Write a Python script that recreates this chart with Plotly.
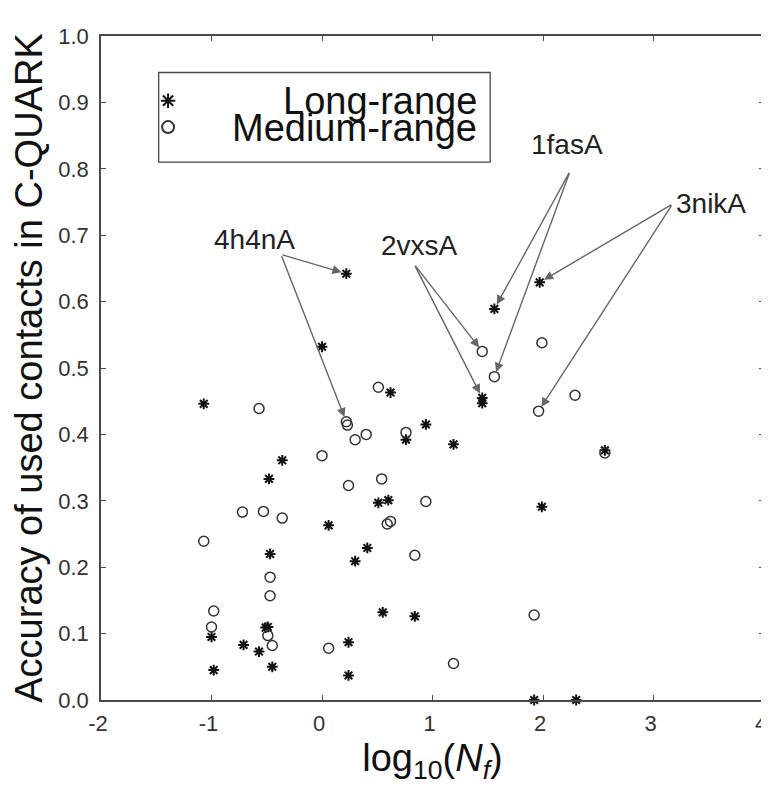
import plotly.graph_objects as go

# ---- data ----
long_x = [0.22, 0.00, 0.62, -1.07, -0.36, -0.48, 0.51, 0.60, 0.06, 0.41, 0.30, -0.47,
          -1.00, -0.51, -0.49, -0.71, -0.57, -0.45, -0.98, 0.24, 0.24, 0.55, 0.84,
          0.94, 0.76, 1.19, 1.45, 1.45, 1.56, 1.97, 1.99, 2.56, 1.92, 2.30]
long_y = [0.642, 0.532, 0.463, 0.446, 0.361, 0.333, 0.297, 0.301, 0.263, 0.229, 0.209, 0.220,
          0.095, 0.109, 0.110, 0.083, 0.073, 0.050, 0.045, 0.087, 0.037, 0.132, 0.126,
          0.415, 0.392, 0.385, 0.455, 0.447, 0.589, 0.629, 0.291, 0.376, 0.000, 0.000]

med_x = [0.51, -0.57, 0.22, 0.23, 0.30, 0.40, 0.00, 0.24, 0.54, -0.72, -0.53, -0.36,
         0.59, 0.62, -1.07, -0.47, -0.47, -0.98, -1.00, -0.49, -0.45, 0.06, 0.84,
         0.94, 0.76, 1.45, 1.56, 1.99, 1.96, 2.29, 2.56, 1.92, 1.19]
med_y = [0.471, 0.439, 0.419, 0.414, 0.392, 0.400, 0.368, 0.323, 0.333, 0.283, 0.284, 0.274,
         0.265, 0.269, 0.239, 0.185, 0.157, 0.134, 0.110, 0.097, 0.082, 0.078, 0.218,
         0.299, 0.403, 0.525, 0.487, 0.538, 0.435, 0.459, 0.372, 0.128, 0.055]

series_names = ["Long-range", "Medium-range"]
x_ticks = [-2, -1, 0, 1, 2, 3, 4]
y_ticks = [0.0, 0.1, 0.2, 0.3, 0.4, 0.5, 0.6, 0.7, 0.8, 0.9, 1.0]

# labelled proteins: label, label position, index into long series, index into medium series
labels = ["4h4nA", "2vxsA", "1fasA", "3nikA"]
label_x = [-0.612, 0.880, 2.219, 3.523]
label_y = [0.693, 0.684, 0.837, 0.747]
arrow_tail_x = [-0.371, 0.835, 2.244, 3.173]
arrow_tail_y = [0.671, 0.656, 0.796, 0.747]
long_idx = [0, 26, 28, 29]
med_idx = [2, 25, 26, 28]

FONT = "Liberation Sans, Arial, sans-serif"
INK = "#222222"
FRAME = "#4a4a4a"

fig = go.Figure()
fig.add_trace(go.Scatter(
    x=long_x, y=long_y, mode="markers", name="\u00a0",
    marker=dict(symbol="asterisk-open", size=9, color="#111111",
                line=dict(width=2, color="#111111")),
    cliponaxis=False,
))
fig.add_trace(go.Scatter(
    x=med_x, y=med_y, mode="markers", name="\u00a0\u00a0",
    marker=dict(symbol="circle-open", size=10, color="#333333",
                line=dict(width=1.5, color="#333333")),
    cliponaxis=False,
))

annotations = []
for i, lab in enumerate(labels):
    annotations.append(dict(
        x=label_x[i], y=label_y[i], xref="x", yref="y", text=lab, showarrow=False,
        font=dict(family=FONT, size=28, color=INK), xanchor="center", yanchor="middle"))
    for hx, hy in [(long_x[long_idx[i]], long_y[long_idx[i]]),
                   (med_x[med_idx[i]], med_y[med_idx[i]])]:
        annotations.append(dict(
            x=hx, y=hy, xref="x", yref="y", ax=arrow_tail_x[i], ay=arrow_tail_y[i],
            axref="x", ayref="y", text="", showarrow=True, arrowhead=2, arrowsize=1.3,
            arrowwidth=1.4, arrowcolor="#666666", standoff=5))

# legend text (right aligned inside the box)
annotations.append(dict(x=0.570, y=0.902, xref="paper", yref="paper", text=series_names[0],
                        showarrow=False, xanchor="right", yanchor="middle",
                        font=dict(family=FONT, size=38, color="#111111")))
annotations.append(dict(x=0.570, y=0.861, xref="paper", yref="paper", text=series_names[1],
                        showarrow=False, xanchor="right", yanchor="middle",
                        font=dict(family=FONT, size=38, color="#111111")))

# note: the page body adds an 8px offset, compensated in the margins
fig.update_layout(
    width=769, height=787,
    margin=dict(l=93, r=13, t=28, b=95),
    paper_bgcolor="white", plot_bgcolor="white",
    annotations=annotations,
    shapes=[dict(type="rect", xref="paper", yref="paper", x0=0.087, x1=0.587,
                 y0=0.810, y1=0.945, line=dict(color=FRAME, width=1.3))],
    showlegend=True,
    legend=dict(x=0.071, y=0.930, xanchor="left", yanchor="top",
                bgcolor="rgba(0,0,0,0)", borderwidth=0, font=dict(size=18, family=FONT),
                itemsizing="constant", tracegroupgap=0),
    xaxis=dict(range=[-2, 4], tickvals=x_ticks, ticktext=[str(v) for v in x_ticks],
               showgrid=False, zeroline=False, showline=True, linecolor=FRAME, linewidth=1.5,
               mirror="allticks", ticks="inside", ticklen=5, tickcolor=FRAME, automargin=False,
               ticklabelstandoff=3, ticklabelshift=-3,
               tickfont=dict(family=FONT, size=22, color="#333333"),
               title=dict(text="log<sub>10</sub>(<i>N<sub>f</sub></i>)",
                          font=dict(family=FONT, size=38, color="#111111"), standoff=9)),
    yaxis=dict(range=[0, 1.0], tickvals=y_ticks, ticktext=[f"{v:.1f}" for v in y_ticks],
               showgrid=False, zeroline=False, showline=True, linecolor=FRAME, linewidth=1.5,
               mirror="allticks", ticks="inside", ticklen=5, tickcolor=FRAME, automargin=False,
               ticklabelstandoff=6,
               tickfont=dict(family=FONT, size=22, color="#333333"),
               title=dict(text="Accuracy of used contacts in C-QUARK",
                          font=dict(family=FONT, size=38, color="#111111"), standoff=6)),
)

fig.write_html("out.html")
